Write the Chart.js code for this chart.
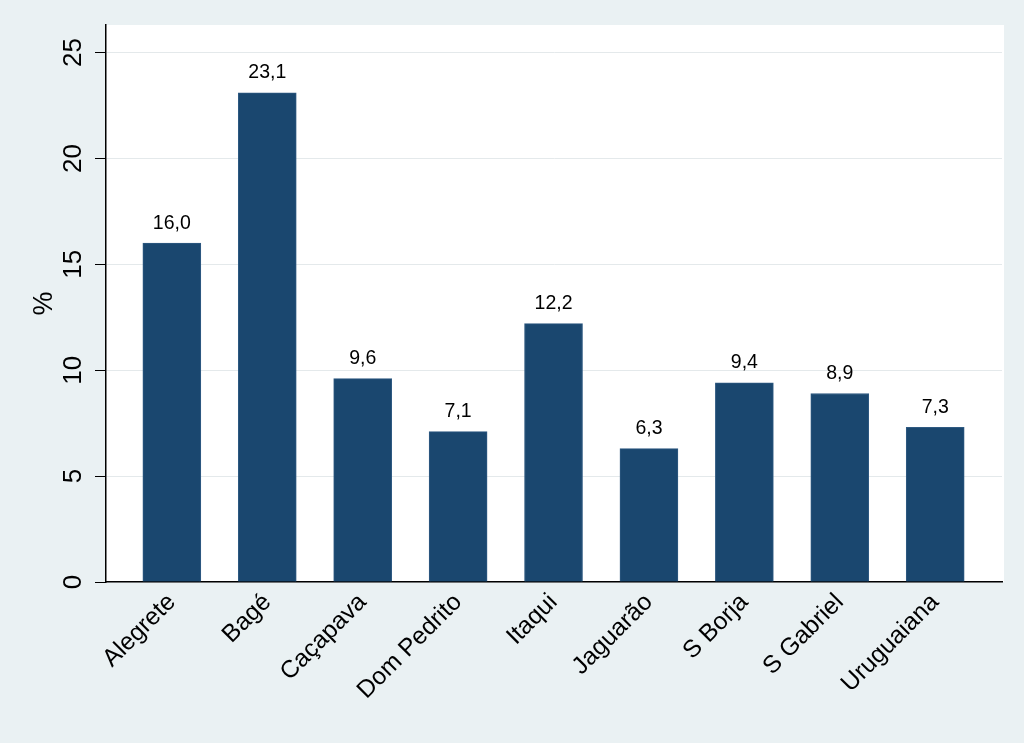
<!DOCTYPE html>
<html>
<head>
<meta charset="utf-8">
<script src="https://cdn.jsdelivr.net/npm/chart.js@4/dist/chart.umd.min.js"></script>
<style>
  html, body { margin: 0; padding: 0; background: #eaf1f3; }
  #wrap { width: 1024px; height: 743px; }
</style>
</head>
<body>
<div id="wrap"><canvas id="c" width="1024" height="743"></canvas></div>
<script>
const categories = ["Alegrete", "Bagé", "Caçapava", "Dom Pedrito", "Itaqui", "Jaguarão", "S Borja", "S Gabriel", "Uruguaiana"];
const values = [16.0, 23.1, 9.6, 7.1, 12.2, 6.3, 9.4, 8.9, 7.3];
const yTicks = [0, 5, 10, 15, 20, 25];
const yTitle = "%";

const FONT = "'Liberation Sans', Arial, Helvetica, sans-serif";

const bgPlugin = {
  id: 'bg',
  beforeDraw(chart) {
    const ctx = chart.ctx, a = chart.chartArea;
    ctx.save();
    ctx.fillStyle = '#eaf1f3';
    ctx.fillRect(0, 0, chart.width, chart.height);
    ctx.fillStyle = '#ffffff';
    ctx.fillRect(a.left, a.top, a.right - a.left + 2, a.bottom - a.top);
    ctx.restore();
  }
};

const valueLabels = {
  id: 'valueLabels',
  afterDatasetsDraw(chart) {
    const ctx = chart.ctx;
    const meta = chart.getDatasetMeta(0);
    ctx.save();
    ctx.font = "19.5px " + FONT;
    ctx.fillStyle = '#000';
    ctx.textAlign = 'center';
    ctx.textBaseline = 'middle';
    meta.data.forEach((bar, i) => {
      ctx.fillText(values[i].toFixed(1).replace('.', ','), bar.x, bar.y - 20);
    });
    ctx.restore();
  }
};

new Chart(document.getElementById('c'), {
  type: 'bar',
  data: {
    datasets: [{
      data: values.map((v, i) => ({ x: i, y: v })),
      backgroundColor: '#1a476f',
      borderColor: '#2f5a82',
      borderWidth: 1,
      barThickness: 58
    }]
  },
  options: {
    responsive: false,
    animation: false,
    devicePixelRatio: 1,
    layout: { padding: { left: 0, top: 25, right: 22, bottom: 0 } },
    plugins: { legend: { display: false }, tooltip: { enabled: false } },
    scales: {
      x: {
        type: 'linear',
        offset: false,
        min: -0.69,
        max: 8.70,
        afterBuildTicks(scale) { scale.ticks = categories.map((c, i) => ({ value: i })); },
        afterFit(scale) { scale.height = 161; },
        grid: { display: false, drawTicks: false },
        border: { display: true, color: '#000', width: 1.5 },
        ticks: {
          autoSkip: false,
          minRotation: 45,
          maxRotation: 45,
          padding: 6,
          color: '#000',
          font: { family: FONT, size: 24.5 },
          callback: (v) => categories[v]
        }
      },
      y: {
        min: 0,
        max: 26.3,
        afterBuildTicks(scale) { scale.ticks = yTicks.map(v => ({ value: v })); },
        afterFit(scale) { scale.width = 106; },
        grid: { color: '#e4e9eb', lineWidth: 1, tickColor: '#000', tickLength: 11, drawTicks: true },
        border: { display: true, color: '#000', width: 1.5 },
        ticks: {
          minRotation: 90,
          maxRotation: 90,
          crossAlign: 'center',
          padding: 7,
          color: '#000',
          font: { family: FONT, size: 26 },
          callback: (v) => String(v)
        },
        title: {
          display: true,
          text: yTitle,
          color: '#000',
          font: { family: FONT, size: 27 },
          padding: { top: 28, bottom: 0 }
        }
      }
    }
  },
  plugins: [bgPlugin, valueLabels]
});
</script>
</body>
</html>
